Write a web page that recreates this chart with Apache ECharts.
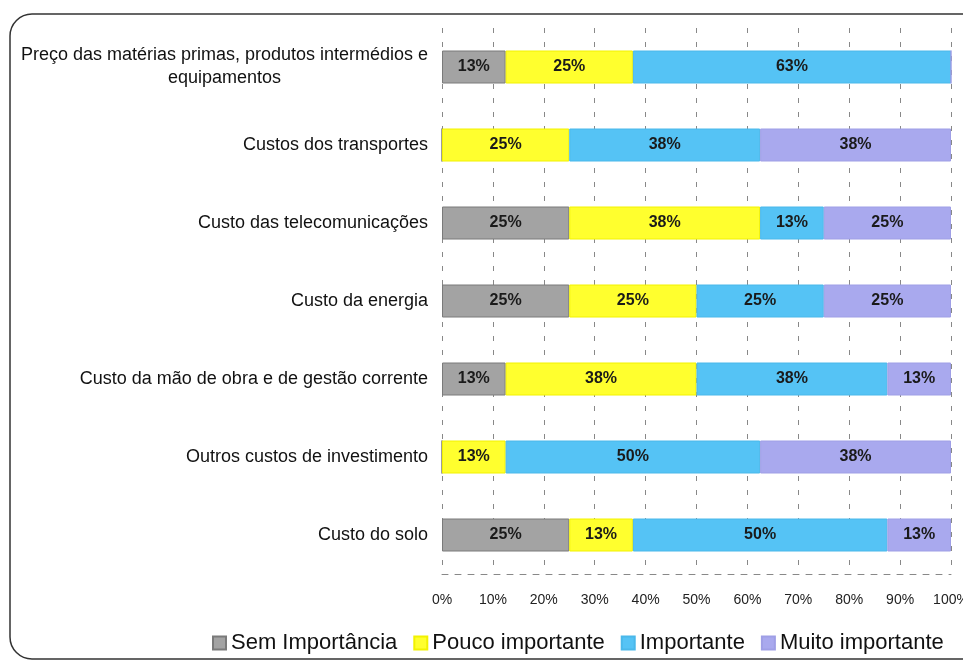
<!DOCTYPE html>
<html>
<head>
<meta charset="utf-8">
<style>
  html, body { margin: 0; padding: 0; background: #fff; }
  #main { width: 963px; height: 663px; }
</style>
</head>
<body>
<div id="main"></div>
<script src="https://cdn.jsdelivr.net/npm/echarts@6/dist/echarts.min.js"></script>
<script>
// categories, top to bottom
var categories = [
  'Preço das matérias primas, produtos intermédios e\nequipamentos',
  'Custos dos transportes',
  'Custo das telecomunicações',
  'Custo da energia',
  'Custo da mão de obra e de gestão corrente',
  'Outros custos de investimento',
  'Custo do solo'
];
var seriesNames = ['Sem Importância', 'Pouco importante', 'Importante', 'Muito importante'];
var semImportancia  = [12.5, 0, 25, 25, 12.5, 0, 25];
var poucoImportante = [25, 25, 37.5, 25, 37.5, 12.5, 12.5];
var importante      = [62.5, 37.5, 12.5, 25, 37.5, 50, 50];
var muitoImportante = [0, 37.5, 25, 25, 12.5, 37.5, 12.5];
var xTicks = [0, 10, 20, 30, 40, 50, 60, 70, 80, 90, 100];

var colors = ['#a3a3a3', '#ffff2e', '#55c3f5', '#a9a9ee'];
var borders = ['#7a7a7a', '#f2f200', '#4ab8ea', '#9f9fe6'];
var values = [semImportancia, poucoImportante, importante, muitoImportante];

var series = seriesNames.map(function(n, i){
  return {
    name: n, type: 'bar', stack: 'total', barWidth: 33,
    data: values[i],
    itemStyle: { color: colors[i], borderColor: borders[i], borderWidth: 1 },
    label: {
      show: true, position: 'inside', color: '#1a1a1a',
      fontFamily: 'Liberation Sans', fontWeight: 'bold', fontSize: 16,
      formatter: function(p){ return p.value ? Math.round(p.value) + '%' : ''; }
    }
  };
});

var option = {
  backgroundColor: '#fff',
  animation: false,
  graphic: [{
    type: 'rect', silent: true, z: -1,
    shape: { x: 10, y: 14, width: 990, height: 645, r: 22 },
    style: { fill: 'none', stroke: '#333', lineWidth: 1.5 }
  }],
  legend: {
    data: seriesNames,
    left: 207, top: 627,
    icon: 'rect', itemWidth: 13, itemHeight: 13, itemGap: 16,
    textStyle: { fontFamily: 'Liberation Sans', fontSize: 22, color: '#111' }
  },
  grid: { left: 442, right: 12, top: 28, bottom: 89, containLabel: false, outerBoundsMode: 'none' },
  xAxis: {
    type: 'value', min: 0, max: 100, interval: 10,
    axisLine: { show: true, lineStyle: { color: '#888', type: [6, 7], width: 1 } },
    axisTick: { show: false },
    splitLine: { show: true, lineStyle: { color: '#888', type: [5, 9], width: 1 } },
    axisLabel: {
      margin: 19, color: '#222', fontFamily: 'Liberation Sans', fontSize: 14,
      formatter: function(v){ return xTicks.indexOf(v) >= 0 ? v + '%' : ''; }
    }
  },
  yAxis: {
    type: 'category', inverse: true, data: categories,
    axisLine: { show: false }, axisTick: { show: false },
    axisLabel: {
      margin: 14, color: '#111', fontFamily: 'Liberation Sans', fontSize: 18,
      formatter: function(v){
        if (v.indexOf('\n') >= 0) {
          return v.split('\n').map(function(s){ return '{c|' + s + '}'; }).join('\n');
        }
        return v;
      },
      rich: {
        c: { width: 407, align: 'center', fontFamily: 'Liberation Sans', fontSize: 18, color: '#111', lineHeight: 23 }
      }
    }
  },
  series: series
};

var chart = echarts.init(document.getElementById('main'));
chart.setOption(option);
</script>
</body>
</html>
